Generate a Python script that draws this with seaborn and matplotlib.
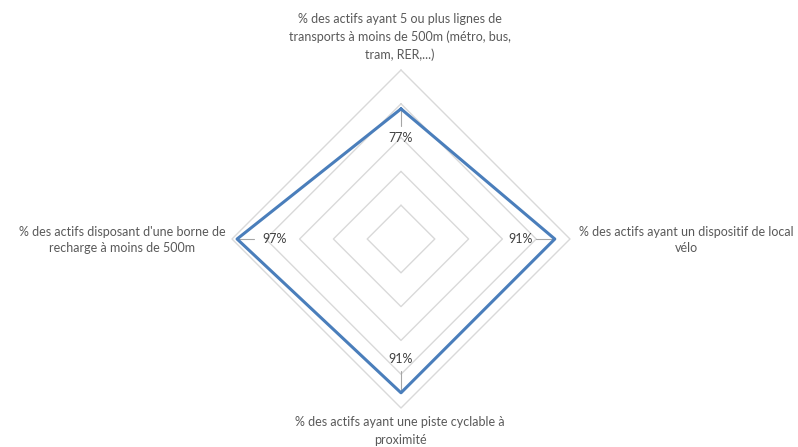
import numpy as np
import seaborn as sns
import matplotlib.pyplot as plt

sns.set_theme(style="white")
plt.rcParams['font.family'] = ['Lato', 'DejaVu Sans']

categories = [
    "% des actifs ayant 5 ou plus lignes de\ntransports à moins de 500m (métro, bus,\ntram, RER,...)",
    "% des actifs ayant un dispositif de local\nvélo",
    "% des actifs ayant une piste cyclable à\nproximité",
    "% des actifs disposant d'une borne de\nrecharge à moins de 500m",
]
values = [77, 91, 91, 97]
value_labels = ["77%", "91%", "91%", "97%"]
rings = [20, 40, 60, 80, 100]

# geometry (pixels of the 798x447 canvas)
W, H = 798, 447
cx, cy, R = 401, 239, 169

fig = plt.figure(figsize=(W / 100, H / 100), dpi=100)
ax = fig.add_axes([0, 0, 1, 1])
ax.set_xlim(-cx / R, (W - cx) / R)
ax.set_ylim(-(H - cy) / R, cy / R)
ax.set_aspect("equal")
ax.axis("off")

angles = np.arange(len(categories)) * np.pi / 2  # clockwise from top
ux, uy = np.sin(angles), np.cos(angles)

# diamond grid
for r in rings:
    f = r / 100
    ax.plot(np.append(ux, ux[0]) * f, np.append(uy, uy[0]) * f, color="#d9d9d9", lw=1, zorder=1)

# data polygon
v = np.array(values) / 100
sns.lineplot(x=np.append(ux * v, ux[0] * v[0]), y=np.append(uy * v, uy[0] * v[0]),
             sort=False, estimator=None, color="#4a7ebb", lw=2.2, ax=ax, zorder=3)

# data labels with leader lines
lab_off = [0.17, 0.20, 0.20, 0.22]
lead = [0.10, 0.11, 0.13, 0.10]
for i, (x, y) in enumerate(zip(ux, uy)):
    ax.plot([x * v[i], x * (v[i] - lead[i])], [y * v[i], y * (v[i] - lead[i])],
            color="#a6a6a6", lw=0.8, zorder=2)
    ax.text(x * (v[i] - lab_off[i]), y * (v[i] - lab_off[i]), value_labels[i],
            ha="center", va="center", fontsize=9, color="#404040", zorder=4)

# category labels
cat_pos = [(400, 37), (686, 240), (400, 431), (122, 240)]
for (px, py), txt in zip(cat_pos, categories):
    ax.text((px - cx) / R, (cy - py) / R, txt, ha="center", va="center",
            fontsize=9, color="#595959", linespacing=1.5)

fig.savefig("out.png", dpi=100)
